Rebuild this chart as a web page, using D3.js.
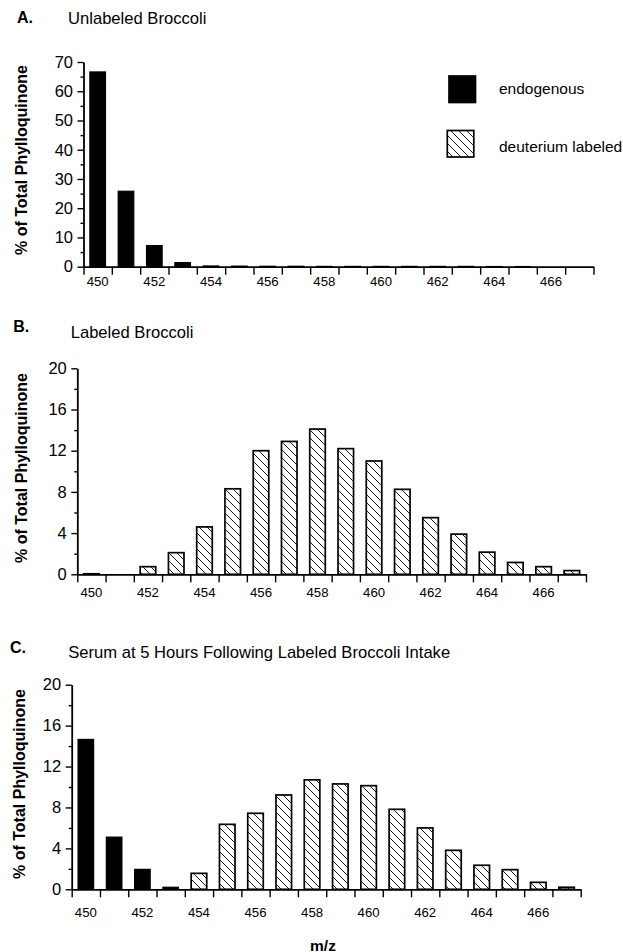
<!DOCTYPE html>
<html>
<head>
<meta charset="utf-8">
<script src="https://cdn.jsdelivr.net/npm/d3@7"></script>
<style>
  body { margin: 0; background: #fff; }
  svg { display: block; font-family: "Liberation Sans", Arial, Helvetica, sans-serif; }
  .domain { stroke: #000; stroke-width: 1.8; }
  .tick line { stroke: #000; stroke-width: 1.4; }
  .ytick text { font-size: 16.5px; fill: #000; }
  .xtick text { font-size: 13.2px; fill: #000; }
</style>
</head>
<body>
<svg id="chart" width="623" height="952"></svg>
<script>
// m/z categories and tick labels
const mz = [450, 451, 452, 453, 454, 455, 456, 457, 458, 459, 460, 461, 462, 463, 464, 465, 466, 467];
const xTickLabels = [450, 452, 454, 456, 458, 460, 462, 464, 466];

// % of total phylloquinone
const endoA  = [66.6, 25.8, 7.2, 1.4, 0.25, 0.2, 0.15, 0.15, 0.1, 0.1, 0.1, 0.1, 0.1, 0.1, 0.05, 0.05, 0, 0];
const labelA = [0, 0, 0, 0, 0, 0, 0, 0, 0, 0, 0, 0, 0, 0, 0, 0, 0, 0];
const endoB  = [0, 0, 0, 0, 0, 0, 0, 0, 0, 0, 0, 0, 0, 0, 0, 0, 0, 0];
const labelB = [0.05, 0, 0.74, 2.1, 4.6, 8.3, 12.0, 12.9, 14.1, 12.2, 11.0, 8.25, 5.5, 3.9, 2.15, 1.15, 0.74, 0.36];
const endoC  = [14.65, 5.1, 1.95, 0.2, 0, 0, 0, 0, 0, 0, 0, 0, 0, 0, 0, 0, 0, 0];
const labelC = [0, 0, 0, 0, 1.56, 6.35, 7.43, 9.22, 10.7, 10.3, 10.13, 7.82, 6.0, 3.81, 2.35, 1.92, 0.68, 0.2];

const yTicksA = [0, 10, 20, 30, 40, 50, 60, 70];
const yMinorA = [5, 15, 25, 35, 45, 55, 65];
const yTicks20 = [0, 4, 8, 12, 16, 20];
const yMinor20 = [2, 6, 10, 14, 18];

const svg = d3.select("#chart");

// hatch for deuterium labeled
const pat = svg.append("defs").append("pattern")
  .attr("id", "hatch").attr("patternUnits", "userSpaceOnUse")
  .attr("width", 8).attr("height", 8);
pat.append("rect").attr("width", 8).attr("height", 8).attr("fill", "#fff");
pat.append("path")
  .attr("d", "M0,0 L8,8 M-2,6 L2,10 M6,-2 L10,2")
  .attr("stroke", "#000").attr("stroke-width", 0.9);

const panels = [
  { letter: "A.", title: "Unlabeled Broccoli", endo: endoA, lab: labelA, max: 70,
    ticks: yTicksA, minor: yMinorA,
    x0: 83.5, x1: 593.5, y0: 266.7, yTop: 62, lblY: 286,
    letterPos: [17, 23.3], titlePos: [68, 24], yLab: [26.5, 160] },
  { letter: "B.", title: "Labeled Broccoli", endo: endoB, lab: labelB, max: 20,
    ticks: yTicks20, minor: yMinor20,
    x0: 77.3, x1: 586, y0: 574.3, yTop: 368.3, lblY: 596.7,
    letterPos: [13.3, 331.7], titlePos: [70.7, 338.3], yLab: [26.5, 468] },
  { letter: "C.", title: "Serum at 5 Hours Following Labeled Broccoli Intake", endo: endoC, lab: labelC, max: 20,
    ticks: yTicks20, minor: yMinor20,
    x0: 71.7, x1: 580.7, y0: 889.3, yTop: 684.7, lblY: 916.7,
    letterPos: [10, 653.3], titlePos: [68.3, 658.3], yLab: [24.5, 784] }
];

panels.forEach(p => {
  const x = d3.scaleBand().domain(mz).range([p.x0, p.x1]).paddingInner(0.45).paddingOuter(0.225);
  const xEdge = d3.scaleLinear().domain([mz[0] - 0.5, mz[mz.length - 1] + 0.5]).range([p.x0, p.x1]);
  const y = d3.scaleLinear().domain([0, p.max]).range([p.y0, p.yTop]);

  // titles
  svg.append("text").attr("x", p.letterPos[0]).attr("y", p.letterPos[1])
    .attr("font-size", "16px").attr("font-weight", "bold").text(p.letter);
  svg.append("text").attr("x", p.titlePos[0]).attr("y", p.titlePos[1])
    .attr("font-size", "16.6px").text(p.title);

  // y axis label
  svg.append("text")
    .attr("transform", `translate(${p.yLab[0]},${p.yLab[1]}) rotate(-90)`)
    .attr("text-anchor", "middle").attr("font-size", "16px").attr("font-weight", "bold")
    .text("% of Total Phylloquinone");

  // bars: endogenous (solid) and labeled (hatched)
  const rows = mz.map((m, i) => ({ m, endo: p.endo[i], lab: p.lab[i] }));
  svg.append("g").selectAll("rect.endo")
    .data(rows.filter(d => d.endo > 0))
    .join("rect").attr("class", "endo")
    .attr("x", d => x(d.m)).attr("width", x.bandwidth())
    .attr("y", d => y(d.endo)).attr("height", d => y(0) - y(d.endo))
    .attr("fill", "#000").attr("stroke", "#000").attr("stroke-width", 1.2);
  svg.append("g").selectAll("rect.lab")
    .data(rows.filter(d => d.lab > 0))
    .join("rect").attr("class", "lab")
    .attr("x", d => x(d.m)).attr("width", x.bandwidth())
    .attr("y", d => y(d.lab)).attr("height", d => y(0) - y(d.lab))
    .attr("fill", "url(#hatch)").attr("stroke", "#000").attr("stroke-width", 1.7);

  // x axis: boundary ticks + labels at band centres
  svg.append("g").attr("transform", `translate(0,${p.y0})`)
    .call(d3.axisBottom(xEdge).tickValues(mz.map(m => m - 0.5).concat(mz[mz.length - 1] + 0.5))
      .tickSizeInner(8).tickSizeOuter(0).tickFormat(""));
  svg.append("g").attr("class", "xtick").attr("transform", `translate(0,${p.lblY})`)
    .call(d3.axisBottom(x).tickValues(xTickLabels).tickSize(0).tickPadding(0))
    .call(g => g.select(".domain").remove())
    .call(g => g.selectAll("text").attr("dy", null));

  // y axis: major + minor ticks
  svg.append("g").attr("class", "ytick").attr("transform", `translate(${p.x0},0)`)
    .call(d3.axisLeft(y).tickValues(p.ticks).tickSizeInner(6).tickSizeOuter(0).tickPadding(4.5));
  svg.append("g").attr("transform", `translate(${p.x0},0)`)
    .call(d3.axisLeft(y).tickValues(p.minor).tickSize(3).tickFormat(""))
    .call(g => g.select(".domain").remove());
});

// legend
const legend = [
  { label: "endogenous", fill: "#000", x: 449, y: 76, ty: 94 },
  { label: "deuterium labeled", fill: "url(#hatch)", x: 447.3, y: 130.5, ty: 151.7 }
];
legend.forEach(l => {
  svg.append("rect").attr("x", l.x).attr("y", l.y).attr("width", 26.5).attr("height", 26.5)
    .attr("fill", l.fill).attr("stroke", "#000").attr("stroke-width", 1.7);
  svg.append("text").attr("x", 499).attr("y", l.ty).attr("font-size", "15.5px").text(l.label);
});

// x axis title
svg.append("text").attr("x", 323).attr("y", 950.5).attr("text-anchor", "middle")
  .attr("font-size", "15.5px").attr("font-weight", "bold").text("m/z");
</script>
</body>
</html>
